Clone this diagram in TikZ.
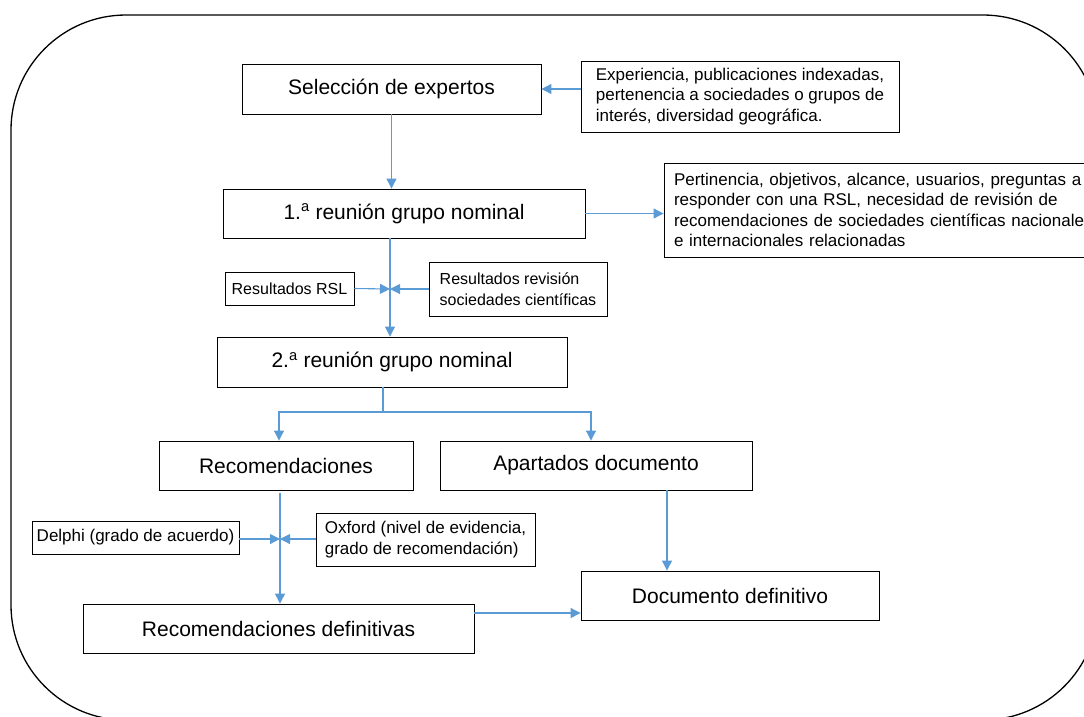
\documentclass[tikz,border=0pt]{standalone}
\usepackage{fontspec}
\setmainfont{Liberation Sans}
\usepackage{xcolor}
\usetikzlibrary{arrows.meta, calc}
\definecolor{azul}{RGB}{91,155,213}

\begin{document}
\begin{tikzpicture}[x=1pt, y=-1pt, >={Triangle[length=10pt,width=10pt]},
        caja/.style={draw, line width=0.9pt, inner sep=0pt, font=\fontsize{21}{25}\selectfont},
        etiq/.style={draw, line width=0.9pt, inner sep=0pt, align=left, font=\fontsize{17}{20.5}\selectfont},
        nota/.style={draw, line width=0.9pt, inner xsep=10pt, inner ysep=0pt, align=left, font=\fontsize{17}{20.5}\selectfont},
        flecha/.style={->, draw=azul, line width=1.1pt}]
        \useasboundingbox (0,0) rectangle (1084,716);
        \draw[line width=1.3pt, rounded corners=115pt] (11,15) rectangle (1098,720);

        \node[caja, minimum width=299pt, minimum height=50pt] (selec) at (391.5,89) {Selección de expertos};
        \node[etiq, minimum width=318pt, minimum height=71pt] (exper) at (740,96.5) {Experiencia, publicaciones indexadas,\\ pertenencia a sociedades o grupos de\\ interés, diversidad geográfica.};
        \node[caja, minimum width=362pt, minimum height=49pt] (reunion1) at (404,213.5) {1.\textsuperscript{a} reunión grupo nominal};
        \node[nota, text width=426pt, minimum height=94pt] (pertin) at (887,210) {Pertinencia, objetivos, alcance, usuarios, preguntas a\\ responder con una RSL, necesidad de revisión de\\ recomendaciones de sociedades científicas nacionales\\ e internacionales relacionadas};
        \node[etiq, font=\fontsize{16}{19}\selectfont, minimum width=129pt, minimum height=33pt] (rsl) at (289.5,288.5) {Resultados RSL};
        \node[etiq, font=\fontsize{16}{20.5}\selectfont, minimum width=178pt, minimum height=54pt] (revis) at (518,289) {Resultados revisión\\ sociedades científicas};
        \node[caja, minimum width=350pt, minimum height=50pt] (reunion2) at (392,362) {2.\textsuperscript{a} reunión grupo nominal};
        \node[caja, minimum width=254pt, minimum height=49pt] (recom) at (286,465.5) {Recomendaciones};
        \node[caja, minimum width=312pt, minimum height=49pt] (apart) at (596,465.5) {Apartados documento};
        \node[etiq, minimum width=207pt, minimum height=33pt] (delphi) at (135.5,537.5) {Delphi (grado de acuerdo)};
        \node[etiq, minimum width=219pt, minimum height=53pt] (oxford) at (425.5,539.5) {Oxford (nivel de evidencia,\\ grado de recomendación)};
        \node[caja, minimum width=391pt, minimum height=49pt] (recdef) at (278.5,628.5) {Recomendaciones definitivas};
        \node[caja, minimum width=298pt, minimum height=49pt] (docdef) at (730,595.5) {Documento definitivo};

        \coordinate (eje1) at (390,289);
        \coordinate (bifur) at (383,412);
        \coordinate (eje2) at (280,539);
        \coordinate (eje3) at (667,530);
        \coordinate (salida) at ($(recdef.east)+(0,-15.5)$);

        \draw[flecha] (exper.west |- selec.east) -- (selec.east);
        \draw[flecha] (selec.south) -- (selec.south |- reunion1.north);
        \draw[flecha] (reunion1.east) -- (reunion1.east -| pertin.west);
        \draw[flecha] (eje1 |- reunion1.south) -- (eje1 |- reunion2.north);
        \draw[flecha] (rsl.east) -- (eje1);
        \draw[flecha] (revis.west) -- (eje1);
        \draw[azul, line width=1.1pt] (bifur |- reunion2.south) -- (bifur);
        \draw[flecha] (bifur) -| ([xshift=-7pt]recom.north);
        \draw[flecha] (bifur) -| ([xshift=-5pt]apart.north);
        \draw[flecha] ($(eje2 |- recom.south)+(0,3)$) -- (eje2 |- recdef.north);
        \draw[flecha] (delphi.east |- eje2) -- (eje2);
        \draw[flecha] (oxford.west |- eje2) -- (eje2);
        \draw[flecha] (eje3 |- apart.south) -- (eje3 |- docdef.north);
        \draw[flecha] (salida) -- (salida -| docdef.west);
\end{tikzpicture}
\end{document}
